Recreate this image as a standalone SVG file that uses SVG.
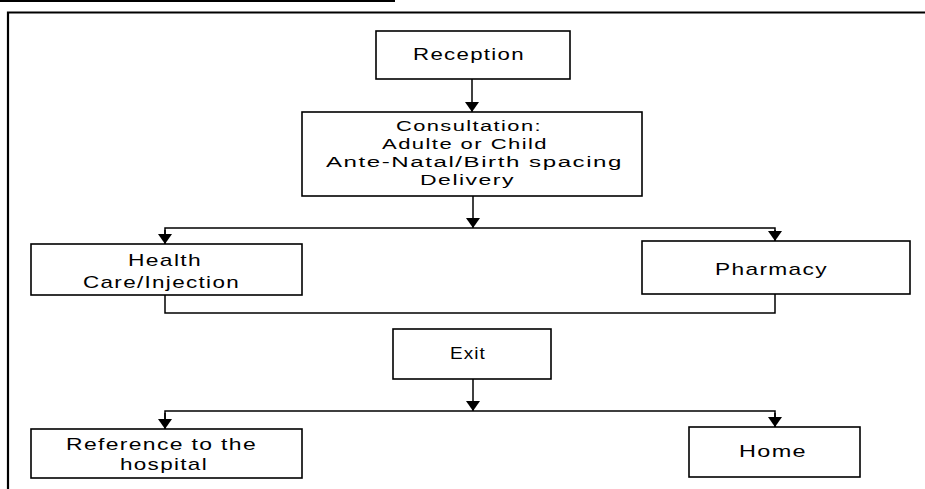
<svg xmlns="http://www.w3.org/2000/svg" width="925" height="489" viewBox="0 0 925 489">
  <defs>
    <style>
      .box { fill: #fff; stroke: #000; stroke-width: 1.6; }
      .frame { fill: none; stroke: #000; stroke-width: 2.2; }
      .wire { fill: none; stroke: #000; stroke-width: 1.5; }
      .lbl { font-family: "Liberation Sans", Arial, sans-serif; font-size: 17px; letter-spacing: 1px; fill: #000; }
      .tight { font-size: 15.4px; }
    </style>
    <marker id="arrow" viewBox="0 0 10 14" refX="10" refY="7" markerWidth="10" markerHeight="14" markerUnits="userSpaceOnUse" orient="auto">
      <path d="M0,0 L10,7 L0,14 Z" fill="#000"/>
    </marker>
  </defs>

  <rect width="925" height="489" fill="#fff"/>

  <!-- page frame -->
  <g id="frame">
    <line class="frame" x1="0" y1="1" x2="395" y2="1"/>
    <polyline class="frame" points="8,489 8,12.5 925,12.5"/>
  </g>

  <!-- connectors -->
  <g id="connectors">
    <line class="wire" x1="472" y1="79" x2="472" y2="112" marker-end="url(#arrow)"/>
    <line class="wire" x1="473" y1="196" x2="473" y2="228" marker-end="url(#arrow)"/>
    <polyline class="wire" points="165,244 165,228 775,228 775,241"/>
    <line class="wire" x1="165" y1="230" x2="165" y2="244" marker-end="url(#arrow)"/>
    <line class="wire" x1="775" y1="230" x2="775" y2="241" marker-end="url(#arrow)"/>
    <polyline class="wire" points="165,295 165,313 775,313 775,294"/>
    <line class="wire" x1="473" y1="379" x2="473" y2="411" marker-end="url(#arrow)"/>
    <polyline class="wire" points="165,429 165,411 775,411 775,427"/>
    <line class="wire" x1="165" y1="413" x2="165" y2="429" marker-end="url(#arrow)"/>
    <line class="wire" x1="775" y1="413" x2="775" y2="427" marker-end="url(#arrow)"/>
  </g>

  <g id="reception">
    <rect class="box" x="376" y="31" width="194" height="48"/>
    <text class="lbl" x="413" y="60" textLength="112" lengthAdjust="spacingAndGlyphs">Reception</text>
  </g>

  <g id="consultation">
    <rect class="box" x="302" y="112" width="340" height="84"/>
    <text class="lbl tight" x="396" y="131" textLength="146" lengthAdjust="spacingAndGlyphs">Consultation:</text>
    <text class="lbl tight" x="382" y="149" textLength="166" lengthAdjust="spacingAndGlyphs">Adulte or Child</text>
    <text class="lbl tight" x="326" y="167" textLength="297" lengthAdjust="spacingAndGlyphs">Ante-Natal/Birth spacing</text>
    <text class="lbl tight" x="420" y="185" textLength="95" lengthAdjust="spacingAndGlyphs">Delivery</text>
  </g>

  <g id="health-care">
    <rect class="box" x="31" y="244" width="271" height="51"/>
    <text class="lbl" x="128" y="266" textLength="74" lengthAdjust="spacingAndGlyphs">Health</text>
    <text class="lbl" x="83" y="288" textLength="157" lengthAdjust="spacingAndGlyphs">Care/Injection</text>
  </g>

  <g id="pharmacy">
    <rect class="box" x="642" y="241" width="268" height="53"/>
    <text class="lbl" x="715" y="275" textLength="113" lengthAdjust="spacingAndGlyphs">Pharmacy</text>
  </g>

  <g id="exit">
    <rect class="box" x="393" y="329" width="158" height="50"/>
    <text class="lbl" x="450" y="359" textLength="36" lengthAdjust="spacingAndGlyphs">Exit</text>
  </g>

  <g id="hospital">
    <rect class="box" x="31" y="429" width="271" height="49"/>
    <text class="lbl" x="66" y="450" textLength="191" lengthAdjust="spacingAndGlyphs">Reference to the</text>
    <text class="lbl" x="120" y="470" textLength="88" lengthAdjust="spacingAndGlyphs">hospital</text>
  </g>

  <g id="home">
    <rect class="box" x="689" y="427" width="171" height="50"/>
    <text class="lbl" x="739" y="457" textLength="68" lengthAdjust="spacingAndGlyphs">Home</text>
  </g>
</svg>
